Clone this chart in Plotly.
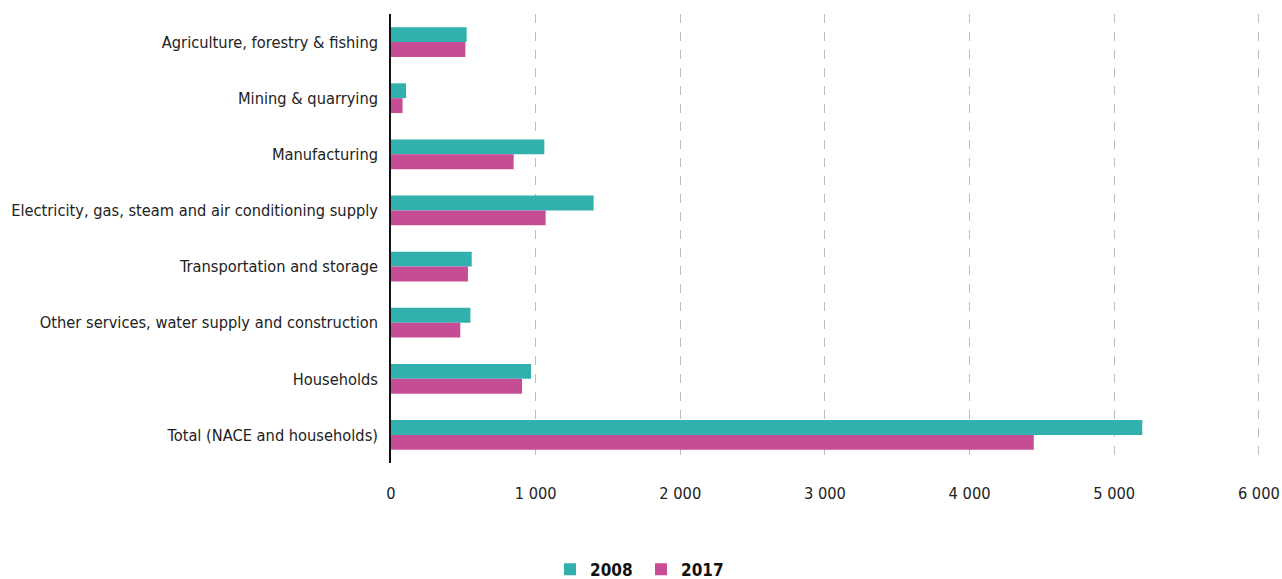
import plotly.graph_objects as go

categories = [
    "Agriculture, forestry & fishing",
    "Mining & quarrying",
    "Manufacturing",
    "Electricity, gas, steam and air conditioning supply",
    "Transportation and storage",
    "Other services, water supply and construction",
    "Households",
    "Total (NACE and households)",
]
values_2008 = [523, 104, 1060, 1401, 558, 549, 968, 5194]
values_2017 = [514, 80, 848, 1069, 532, 479, 906, 4444]
tick_values = [0, 1000, 2000, 3000, 4000, 5000, 6000]

FONT = "DejaVu Sans Condensed, Liberation Sans Narrow, Arial Narrow, sans-serif"

fig = go.Figure()
fig.add_trace(go.Bar(y=categories, x=values_2008, name="2008", orientation="h",
                     marker=dict(color="#32B0AE", line=dict(width=0))))
fig.add_trace(go.Bar(y=categories, x=values_2017, name="2017", orientation="h",
                     marker=dict(color="#C64D93", line=dict(width=0))))

fig.update_layout(
    width=1282, height=579,
    margin=dict(l=391, r=21, t=14, b=116),
    paper_bgcolor="white", plot_bgcolor="white",
    barmode="group", bargap=0.47, bargroupgap=0,
    separators=". ",
    font=dict(family=FONT, size=16.3, color="#222222"),
    legend=dict(orientation="h", x=0.5, xanchor="center", xref="container",
                y=0.016, yanchor="middle", yref="container",
                font=dict(family=FONT, size=17, color="#111111", weight="bold"),
                itemwidth=30, entrywidth=46, entrywidthmode="pixels",
                traceorder="normal"),
    showlegend=True,
)
fig.update_xaxes(range=[0, 6015], tickvals=tick_values, tickformat=",d",
                 showgrid=True, gridcolor="#bdbdbd", griddash="dash", gridwidth=1,
                 zeroline=False, showline=False, ticks="", automargin=False,
                 ticklabelstandoff=19,
                 tickfont=dict(family=FONT, size=16.3, color="#222222"))
fig.update_yaxes(autorange="reversed", showline=True, linecolor="#111111", linewidth=1.5,
                 showgrid=False, ticks="", ticklabelstandoff=8, automargin=False,
                 tickfont=dict(family=FONT, size=16.3, color="#222222"))

fig.write_html("out.html", config={"displayModeBar": False},
               post_script="document.body.style.margin='0px';")
